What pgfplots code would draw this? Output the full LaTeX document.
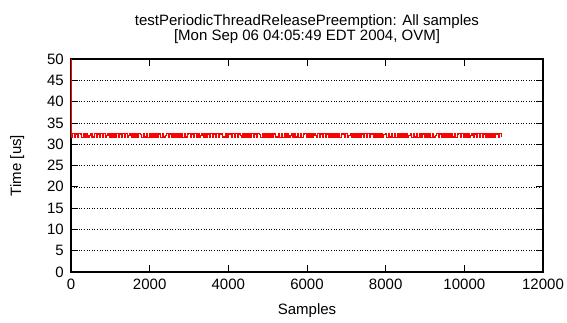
\documentclass[border=0pt]{standalone}
\usepackage{pgfplots}
\pgfplotsset{compat=1.18}
\usepackage{pgfplotstable}
\usepackage{fontspec}
\setmainfont{Liberation Sans}
\pgfplotstableread{
t
31.6
32.5
31.7
32.4
31.6
32.5
32.4
31.6
32.5
31.7
32.4
31.6
32.0
32.5
31.6
31.7
32.5
31.6
32.4
31.6
32.5
31.7
32.5
31.6
32.1
32.5
31.6
32.5
31.7
32.4
31.6
32.5
31.6
32.4
31.7
32.5
31.6
32.5
31.6
32.0
32.5
31.6
32.4
31.7
32.5
31.6
32.5
32.2
31.6
32.5
31.7
32.4
31.6
32.5
31.6
32.4
31.7
32.5
31.6
32.5
32.4
31.6
32.5
31.7
32.0
32.5
31.6
32.4
31.6
32.5
31.6
32.5
31.7
32.5
31.6
32.4
31.6
32.5
31.7
32.4
32.5
31.6
32.4
31.6
32.5
31.7
32.5
31.6
32.1
32.5
31.7
32.5
31.6
32.4
31.6
32.5
31.7
32.4
31.6
32.5
31.6
32.4
32.5
31.6
31.7
32.5
31.6
32.5
32.4
31.6
32.5
31.7
32.5
31.6
32.4
32.0
31.6
32.5
31.7
32.4
31.6
32.5
31.6
32.5
31.7
32.4
31.6
32.5
32.2
31.6
32.5
31.6
32.4
31.7
32.5
31.6
32.5
31.6
32.4
31.7
31.7
32.5
31.6
32.4
31.6
32.5
31.7
32.5
31.6
32.0
32.5
31.6
32.4
31.7
32.5
31.6
32.5
31.6
32.4
32.5
31.6
32.5
31.7
32.4
31.6
32.5
32.1
31.6
32.5
31.7
32.4
31.6
32.5
31.6
32.4
31.7
32.5
31.6
32.5
31.6
32.5
31.7
32.4
31.6
32.5
32.4
31.6
32.5
31.7
32.0
32.5
31.6
32.4
31.6
32.5
31.7
32.5
31.6
32.4
31.6
32.5
31.7
32.5
31.6
32.4
32.5
31.6
32.5
31.7
32.4
31.6
32.5
31.6
32.2
32.5
31.6
32.4
31.7
32.5
31.6
32.5
31.6
32.4
31.7
32.5
31.6
32.5
31.7
32.4
31.6
32.0
32.5
31.6
32.5
31.7
32.4
31.6
32.5
31.6
32.4
32.5
31.7
32.5
31.6
32.4
31.6
32.5
31.7
32.1
32.5
31.6
32.4
31.6
32.5
31.7
32.5
31.6
32.4
31.6
32.5
31.7
32.5
31.6
32.4
32.5
31.6
32.5
31.7
32.4
31.6
32.5
31.6
32.0
32.5
31.6
32.4
31.7
32.5
31.6
32.5
31.6
32.4
31.7
32.5
31.6
32.5
31.7
32.4
31.6
32.5
32.4
31.6
32.5
31.7
}\datatable
\begin{document}
\fontsize{15}{15}\selectfont
\begin{tikzpicture}[x=1pt,y=1pt]
\begin{axis}[
  at={(0,0)}, anchor=south west,
  scale only axis,
  width=472pt, height=213pt,
  xmin=0, xmax=12000, ymin=0, ymax=50,
  xtick={0,2000,...,12000},
  ytick={0,5,...,50},
  scaled ticks=false,
  /pgf/number format/1000 sep={},
  /pgf/number format/assume math mode=true,
  tick align=inside,
  major tick length=7pt,
  tick style={black, line width=0.8pt},
  axis line style={black, line width=1.1pt},
  ymajorgrids,
  major grid style={black, line width=0.6pt, dash pattern=on 1pt off 1.6pt},
  ticklabel style={font=\fontsize{15}{15}\selectfont},
  xticklabel style={yshift=-2pt},
  yticklabel style={xshift=-2pt},
  xlabel={Samples},
  ylabel={Time [us]},
  xlabel style={at={(axis description cs:0.5,-0.183)}, anchor=center, font=\fontsize{15}{15}\selectfont},
  ylabel style={at={(axis description cs:-0.114,0.5)}, anchor=center, rotate=0, font=\fontsize{15}{15}\selectfont},
  title={testPeriodicThreadReleasePreemption: All samples\\{[}Mon Sep 06 04:05:49 EDT 2004, OVM{]}},
  title style={align=center, at={(axis description cs:0.5,1.11)}, anchor=center, font=\fontsize{15}{15}\selectfont},
  clip=true,
]
\addplot[red, line width=1pt] coordinates {(0,150) (10,31.7)};
\addplot[red, line width=1.2pt, const plot] table[x expr=10+\coordindex*37.3, y=t] {\datatable};
\end{axis}
\pgfresetboundingbox
\path[use as bounding box] (-71pt,-50pt) rectangle (496pt,272pt);
\end{tikzpicture}
\end{document}
